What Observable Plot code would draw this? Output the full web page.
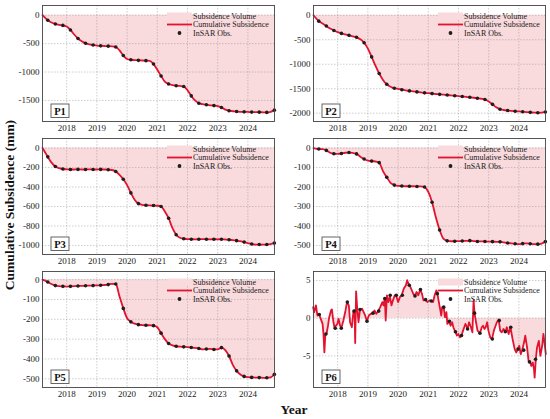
<!DOCTYPE html>
<html><head><meta charset="utf-8">
<script src="https://cdn.jsdelivr.net/npm/d3@7"></script>
<script src="https://cdn.jsdelivr.net/npm/@observablehq/plot@0.6"></script>
<style>
body{margin:0;background:#fff;}
#wrap{position:relative;width:550px;height:419px;font-family:"Liberation Serif","Times New Roman",serif;color:#111;}
.panel{position:absolute;}
#ylab{position:absolute;left:10px;top:205px;transform:translate(-50%,-50%) rotate(-90deg);font-weight:bold;font-size:13.5px;white-space:nowrap;}
#xlab{position:absolute;left:294px;top:410px;transform:translate(-50%,-50%);font-weight:bold;font-size:13.5px;}
</style></head><body>
<div id="wrap"><div id="ylab">Cumulative Subsidence (mm)</div><div id="xlab">Year</div></div>
<script>
// ---- data ----
const yearTicks = [2018, 2019, 2020, 2021, 2022, 2023, 2024];
const times = [2017.2,2017.375,2017.5,2017.625,2017.75,2017.875,
  2018,2018.125,2018.25,2018.375,2018.5,2018.625,2018.75,2018.875,
  2019,2019.125,2019.25,2019.375,2019.5,2019.625,2019.75,2019.875,
  2020,2020.125,2020.25,2020.375,2020.5,2020.625,2020.75,2020.875,
  2021,2021.125,2021.25,2021.375,2021.5,2021.625,2021.75,2021.875,
  2022,2022.125,2022.25,2022.375,2022.5,2022.625,2022.75,2022.875,
  2023,2023.125,2023.25,2023.375,2023.5,2023.625,2023.75,2023.875,
  2024,2024.125,2024.25,2024.375,2024.5,2024.625,2024.75,2024.875];
const p1 = [0,-90,-130,-155,-170,-180,
  -200,-260,-340,-410,-460,-495,-515,-525,
  -535,-540,-542,-545,-548,-560,-620,-710,
  -770,-785,-790,-795,-797,-800,-805,-860,
  -960,-1070,-1170,-1210,-1230,-1240,-1245,-1255,
  -1320,-1420,-1500,-1550,-1565,-1575,-1585,-1590,
  -1600,-1625,-1660,-1680,-1690,-1695,-1700,-1700,
  -1702,-1705,-1705,-1706,-1708,-1710,-1700,-1670];
const p2 = [0,-120,-170,-220,-270,-310,
  -345,-370,-390,-410,-430,-450,-490,-560,
  -680,-850,-1030,-1190,-1320,-1410,-1460,-1490,
  -1505,-1520,-1535,-1545,-1555,-1565,-1575,-1585,
  -1592,-1600,-1608,-1615,-1622,-1630,-1637,-1645,
  -1652,-1660,-1668,-1676,-1685,-1695,-1705,-1720,
  -1760,-1820,-1880,-1920,-1935,-1945,-1955,-1960,
  -1965,-1972,-1978,-1983,-1988,-1992,-1990,-1975];
const p3 = [0,-90,-150,-190,-205,-215,
  -218,-220,-220,-219,-220,-220,-219,-220,
  -220,-219,-220,-222,-225,-240,-275,-320,
  -380,-460,-530,-570,-582,-586,-588,-590,
  -592,-600,-650,-720,-820,-890,-920,-930,
  -935,-935,-936,-935,-934,-935,-936,-935,
  -936,-935,-938,-940,-945,-950,-955,-965,
  -975,-985,-990,-990,-990,-990,-985,-975];
const p4 = [0,-5,-6,-12,-24,-29,
  -30,-28,-24,-23,-25,-30,-44,-56,
  -64,-67,-69,-75,-118,-150,-178,-190,
  -194,-195,-196,-196,-196,-197,-197,-200,
  -225,-278,-355,-420,-465,-476,-478,-478,
  -477,-477,-476,-475,-477,-479,-479,-479,
  -480,-480,-481,-481,-484,-487,-489,-491,
  -493,-490,-489,-491,-493,-493,-490,-480];
const p5 = [0,-12,-22,-30,-33,-34,
  -35,-34,-33,-32,-31,-31,-30,-30,
  -29,-28,-27,-25,-21,-22,-85,-145,
  -195,-213,-222,-227,-229,-230,-230,-232,
  -240,-270,-300,-322,-332,-336,-338,-339,
  -340,-342,-344,-347,-352,-350,-349,-352,
  -352,-343,-355,-385,-430,-460,-478,-488,
  -492,-493,-494,-494,-495,-495,-493,-478];
const p6Times = [2017.19,2017.22,2017.28,2017.33,2017.39,2017.44,2017.50,2017.53,2017.56,2017.59,
  2017.63,2017.68,2017.72,2017.78,2017.81,2017.86,2017.90,2017.94,2017.99,2018.03,
  2018.08,2018.12,2018.19,2018.26,2018.31,2018.37,2018.41,2018.47,2018.52,2018.56,
  2018.58,2018.61,2018.64,2018.69,2018.74,2018.81,2018.86,2018.91,2018.97,2019.03,
  2019.10,2019.17,2019.22,2019.28,2019.34,2019.41,2019.48,2019.52,2019.56,2019.59,
  2019.63,2019.68,2019.73,2019.78,2019.83,2019.89,2019.94,2020.00,2020.06,2020.12,
  2020.19,2020.26,2020.30,2020.34,2020.38,2020.44,2020.50,2020.56,2020.61,2020.67,
  2020.73,2020.79,2020.84,2020.91,2020.97,2021.04,2021.10,2021.16,2021.21,2021.27,
  2021.30,2021.35,2021.38,2021.43,2021.46,2021.51,2021.55,2021.60,2021.63,2021.69,
  2021.74,2021.79,2021.83,2021.89,2021.95,2021.99,2022.05,2022.10,2022.15,2022.19,
  2022.23,2022.30,2022.35,2022.41,2022.46,2022.50,2022.53,2022.58,2022.63,2022.71,
  2022.77,2022.81,2022.86,2022.90,2022.95,2022.99,2023.05,2023.11,2023.17,2023.21,
  2023.27,2023.33,2023.38,2023.43,2023.49,2023.55,2023.60,2023.66,2023.72,2023.79,
  2023.86,2023.91,2023.97,2024.01,2024.06,2024.11,2024.17,2024.21,2024.27,2024.32,
  2024.37,2024.41,2024.46,2024.50,2024.52,2024.56,2024.60,2024.66,2024.71,2024.77,
  2024.81,2024.86,2024.89];
const p6 = [1.47,0.8,1.7,0.36,0.49,-0.09,-0.76,-2.1,-4.55,-2.3,
  -2.1,-1.0,0.13,1.03,1.16,-0.54,-1.34,-1.0,-0.76,-0.09,
  -1.0,-1.34,-0.31,1.03,2.14,1.7,-0.54,-1.2,0.8,1.03,
  -3.3,3.57,1.7,-0.54,1.16,1.25,0.8,0.36,-0.4,0.36,
  0.58,0.71,1.03,0.58,0.94,1.47,2.14,1.7,2.68,-0.31,
  3.04,2.14,2.95,1.7,2.37,3.04,2.95,2.14,2.8,3.04,
  3.93,4.38,5.04,4.6,4.38,3.84,3.26,2.95,3.48,3.04,
  3.8,3.26,2.37,2.46,2.14,2.37,2.28,2.14,3.04,3.7,
  3.26,2.14,1.47,0.36,1.47,1.47,0.13,0.8,-0.76,-0.4,
  -1.0,-0.54,-1.2,-1.79,-2.3,-2.1,-2.54,-2.3,-1.65,-1.2,
  -0.76,-1.43,-0.54,-1.2,-1.88,2.4,0.67,-0.54,-1.65,-2.0,
  -1.2,-1.0,-1.43,-1.2,-0.54,-1.65,-2.54,-2.77,-1.65,-1.2,
  -0.54,-0.18,-1.65,-1.88,-1.43,-1.79,-1.2,-2.1,-1.2,-2.77,
  -4.1,-4.55,-4.1,-3.66,-4.78,-4.24,-3.2,-2.32,-3.88,-5.67,
  -5.8,-6.34,-5.9,-6.8,-7.9,-5.45,-3.88,-3.0,-5.0,-3.66,
  -2.1,-3.66,-4.78];
const p6DotTimes = [2017.39,2017.61,2017.92,2018.12,2018.32,2018.54,2018.74,2018.97,2019.17,2019.36,
  2019.56,2019.74,2019.94,2020.14,2020.37,2020.56,2020.74,2020.91,2021.10,2021.30,
  2021.51,2021.70,2021.90,2022.10,2022.30,2022.53,2022.71,2023.12,2023.35,2023.55,
  2023.73,2023.97,2024.16,2024.35,2024.55];
const p6Dots = [0.49,-2.1,-1.34,-1.34,2.14,0.94,1.16,-0.4,0.67,0.94,
  2.6,3.04,3.04,3.04,4.38,2.95,3.8,2.46,2.28,3.26,
  1.47,-0.4,-1.79,-2.3,-1.43,0.67,-2.0,-2.77,-0.31,-1.79,
  -1.2,-4.1,-4.24,-5.8,-5.45];
const legendLabels = ["Subsidence Volume", "Cumulative Subsidence", "InSAR Obs."];

// ---- styles ----
const FILL = "#f9dadd";
const RED = "#e3122e";
const DOT = "#1e1e1e";
const XDOM = [2017.2, 2024.88];

const wrap = document.getElementById("wrap");

function panel(o) {
  const data = o.t.map((d, i) => ({t: d, v: o.v[i]}));
  const dots = o.dotT ? o.dotT.map((d, i) => ({t: d, v: o.dotV[i]}))
                      : data.filter((d, i) => i % 2 === 1);
  const H = 135, mt = 5, mb = 14;
  const fr = o.w - o.mr; // frame right
  const fb = H - mb;      // frame bottom
  const legend = () => {
    const g = d3.create("svg:g").attr("font-family", "Liberation Serif, Times New Roman, serif").attr("font-size", 8).attr("fill", "#222").attr("text-anchor", "start");
    const sx = fr - 107, tx = fr - 81;
    const ys = [mt + 11, mt + 19.5, mt + 28];
    g.append("rect").attr("x", sx).attr("y", ys[0] - 3.5).attr("width", 25).attr("height", 7).attr("fill", FILL);
    g.append("line").attr("x1", sx).attr("x2", sx + 25).attr("y1", ys[1]).attr("y2", ys[1]).attr("stroke", RED).attr("stroke-width", 1.8);
    g.append("circle").attr("cx", sx + 12.5).attr("cy", ys[2]).attr("r", 1.9).attr("fill", DOT);
    legendLabels.forEach((s, i) => g.append("text").attr("x", tx).attr("y", ys[i]).attr("dy", "0.35em").attr("text-anchor", "start").text(s));
    return g.node();
  };
  const tag = () => {
    const g = d3.create("svg:g");
    const bx = o.ml + 9, by = fb - 17;
    g.append("rect").attr("x", bx).attr("y", by).attr("width", 18).attr("height", 13.5).attr("fill", "#fff").attr("stroke", "#555").attr("stroke-width", 0.9);
    g.append("text").attr("x", bx + 9).attr("y", by + 7).attr("dy", "0.35em").attr("text-anchor", "middle")
      .attr("font-family", "Liberation Serif, Times New Roman, serif").attr("font-weight", "bold").attr("font-size", 10.5).attr("fill", "#111").text(o.label);
    return g.node();
  };
  const gridStyle = {stroke: "#8a8a8a", strokeOpacity: 0.7, strokeWidth: 0.6, strokeDasharray: "1.5,1.5"};
  const svg = Plot.plot({
    width: o.w, height: H,
    marginLeft: o.ml, marginRight: o.mr, marginTop: mt, marginBottom: mb,
    style: {fontFamily: "Liberation Serif, Times New Roman, serif", fontSize: "9px", color: "#222", background: "transparent", overflow: "visible"},
    x: {domain: XDOM, ticks: yearTicks, tickFormat: d => String(d), tickSize: 0, tickPadding: 3, label: null},
    y: {domain: o.yDomain, ticks: o.yTicks, tickFormat: d => String(d), tickSize: 0, tickPadding: 3, label: null},
    marks: [
      Plot.areaY(data, {x: "t", y1: 0, y2: "v", fill: FILL, curve: o.curve}),
      Plot.ruleX(yearTicks, gridStyle),
      Plot.ruleY(o.yTicks, gridStyle),
      Plot.lineY(data, {x: "t", y: "v", stroke: RED, strokeWidth: 1.8, curve: o.curve}),
      Plot.dot(dots, {x: "t", y: "v", r: 1.8, fill: DOT, stroke: "none"}),
      Plot.frame({stroke: "#444", strokeWidth: 0.9}),
      legend,
      tag
    ]
  });
  svg.classList.add("panel");
  svg.style.left = o.left + "px";
  svg.style.top = o.top + "px";
  wrap.appendChild(svg);
}

const L = {left: 0, w: 280, ml: 42, mr: 6};
const R = {left: 275, w: 275, ml: 38, mr: 5};
panel({...L, top: 0, t: times, v: p1, yDomain: [-1870, 170], yTicks: [0, -500, -1000, -1500], label: "P1", curve: "monotone-x"});
panel({...R, top: 0, t: times, v: p2, yDomain: [-2170, 200], yTicks: [0, -500, -1000, -1500, -2000], label: "P2", curve: "monotone-x"});
panel({...L, top: 133, t: times, v: p3, yDomain: [-1092, 98], yTicks: [0, -200, -400, -600, -800, -1000], label: "P3", curve: "monotone-x"});
panel({...R, top: 133, t: times, v: p4, yDomain: [-546, 49], yTicks: [0, -100, -200, -300, -400, -500], label: "P4", curve: "monotone-x"});
panel({...L, top: 266, t: times, v: p5, yDomain: [-544, 41], yTicks: [0, -100, -200, -300, -400, -500], label: "P5", curve: "monotone-x"});
panel({...R, top: 266, t: p6Times, v: p6, dotT: p6DotTimes, dotV: p6Dots, yDomain: [-9.2, 6.2], yTicks: [5, 0, -5], label: "P6", curve: "linear"});
</script>
</body></html>
